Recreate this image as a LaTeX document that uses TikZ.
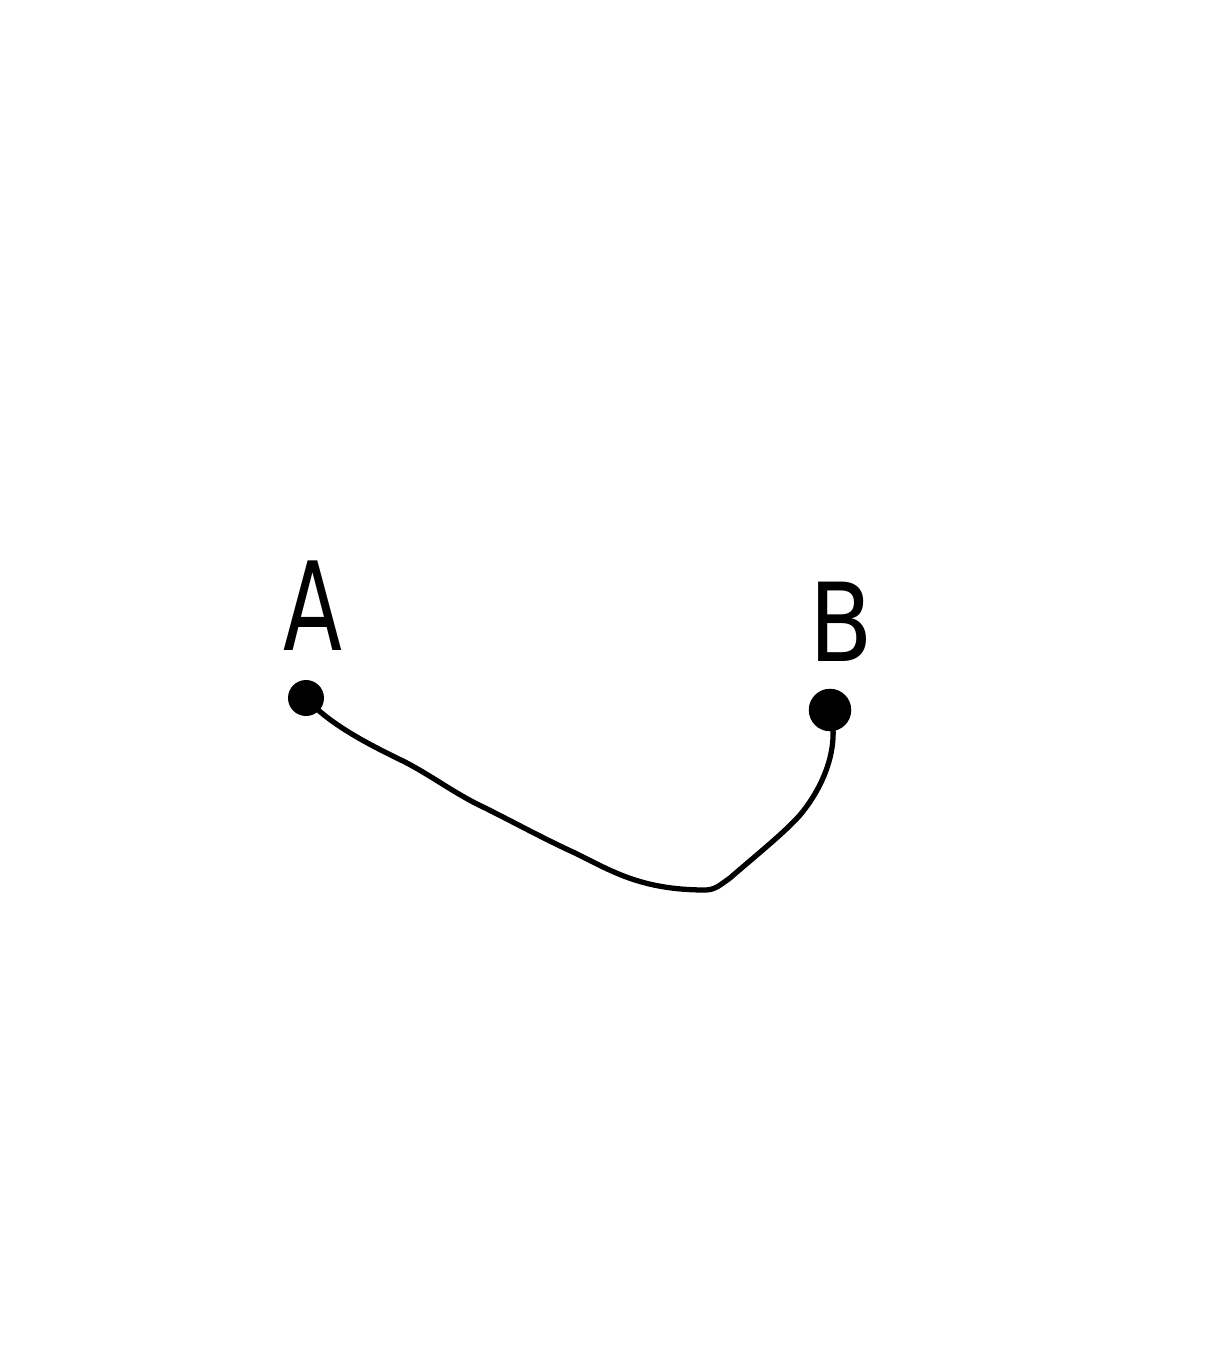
\documentclass[tikz,border=0pt]{standalone}
\usepackage{fontspec}
\setmainfont{DejaVu Sans}
\tikzset{
  px/.style={x=0.02cm,y=-0.02cm},
  dot/.style={circle,fill=black,inner sep=0pt,minimum size=0.72cm},
  lbl/.style={font=\fontsize{62}{70}\selectfont\addfontfeatures{FakeStretch=0.85},inner sep=0pt},
  wire/.style={line width=3pt,line cap=round,line join=round}
}
\begin{document}
\begin{tikzpicture}[px]
\useasboundingbox (0,0) rectangle (1208,1349);
\fill[white] (0,0) rectangle (1208,1349);
\node[lbl,font=\fontsize{70}{80}\selectfont\addfontfeatures{FakeStretch=0.7}] (la) at (313,606) {A};
\node[lbl] (lb) at (841,622) {B};
\node[dot] (a) at (306,698) {};
\node[dot,minimum size=0.85cm] (b) at (830,710) {};
\draw[wire] (a.center) .. controls (330,725) and (370,745) .. (405,762)
  .. controls (430,775) and (450,790) .. (475,803)
  .. controls (510,820) and (540,837) .. (575,853)
  .. controls (610,870) and (640,890) .. (705,890)
  .. controls (715,890) and (720,885) .. (730,878)
  .. controls (760,852) and (785,832) .. (800,815)
  .. controls (825,785) and (840,745) .. (b.center);
\end{tikzpicture}
\end{document}
